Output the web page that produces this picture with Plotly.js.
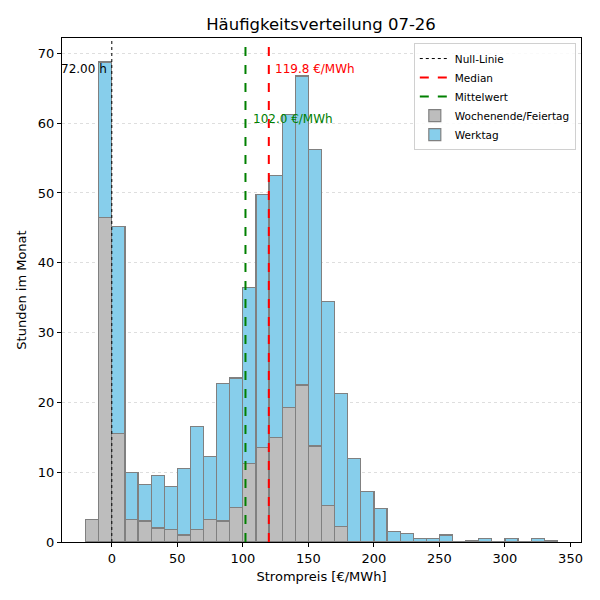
<!DOCTYPE html>
<html>
<head>
<meta charset="utf-8">
<script src="https://cdn.plot.ly/plotly-3.0.1.min.js"></script>
<style>body{margin:0;padding:0;background:#fff}#chart{width:600px;height:600px}</style>
</head>
<body>
<div id="chart"></div>
<script>
// Bin left edges (€/MWh), bin width 10
const binStarts = [-20,-10,0,10,20,30,40,50,60,70,80,90,100,110,120,130,140,150,160,170,180,190,200,210,220,230,240,250,260,270,280,290,300,310,320,330];
const binWidth = 10;
// Hours per bin – weekend/holiday (bottom) and working day (stacked on top)
const wochenende = [3.25,46.5,15.5,3.25,3.0,2.0,1.75,1.0,1.75,3.25,3.0,5.0,11.25,13.5,15.0,19.25,22.5,13.75,5.25,2.25,0,0,0,0,0,0,0,0,0,0,0,0,0,0,0,0];
const werktag    = [0,22.25,29.75,6.75,5.25,7.5,6.25,9.5,14.75,9.0,19.75,18.5,25.25,36.25,37.5,42.0,44.25,42.5,29.25,19.0,12.0,7.25,4.75,1.5,1.25,0.5,0.5,1.0,0,0.25,0.5,0,0.5,0,0.5,0.25];
const median = 119.8;
const mittelwert = 102.0;
const stundenNull = 72.0;
const yTop = 72.2;

const centers = binStarts.map(b => b + binWidth/2);
const font = "DejaVu Sans, sans-serif";

const traces = [
  {type:'scatter', mode:'lines', name:'Null-Linie', x:[0,0], y:[0,yTop],
   line:{color:'black', width:1, dash:'dot'}},
  {type:'scatter', mode:'lines', name:'Median', x:[median,median], y:[0,yTop],
   line:{color:'red', width:2, dash:'dash'}},
  {type:'scatter', mode:'lines', name:'Mittelwert', x:[mittelwert,mittelwert], y:[0,yTop],
   line:{color:'green', width:2, dash:'dash'}},
  {type:'bar', name:'Wochenende/Feiertag', x:centers, y:wochenende, width:binWidth,
   marker:{color:'#bdbdbd', line:{color:'#808080', width:1.2}}},
  {type:'bar', name:'Werktag', x:centers, y:werktag, width:binWidth,
   marker:{color:'#87ceeb', line:{color:'#808080', width:1.2}}}
];
const layout = {
  width:600, height:600,
  margin:{l:62, r:19, t:38, b:58},
  paper_bgcolor:'white', plot_bgcolor:'white',
  barmode:'stack', bargap:0,
  font:{family:font, size:13, color:'black'},
  title:{text:'Häufigkeitsverteilung 07-26', font:{family:font, size:16.5, color:'black'}, x:0.535, xanchor:'center', y:0.96, yanchor:'middle'},
  xaxis:{range:[-38,358], tickvals:[0,50,100,150,200,250,300,350], showgrid:false, zeroline:false,
    showline:true, linecolor:'black', linewidth:1, mirror:true, ticks:'outside', ticklen:4, tickcolor:'black',
    title:{text:'Strompreis [€/MWh]', font:{size:13}, standoff:7}},
  yaxis:{range:[0,yTop], tickvals:[0,10,20,30,40,50,60,70], showgrid:true, gridcolor:'#dedede', griddash:'dot', gridwidth:1,
    zeroline:false, showline:true, linecolor:'black', linewidth:1, mirror:true, ticks:'outside', ticklen:4, tickcolor:'black',
    title:{text:'Stunden im Monat', font:{size:13}, standoff:8}},
  legend:{x:0.99, y:0.99, xanchor:'right', yanchor:'top', bgcolor:'rgba(255,255,255,0.85)', bordercolor:'#d0d0d0', borderwidth:1,
    font:{size:10.5}, traceorder:'normal', itemwidth:30},
  annotations:[
    {x:-2, y:67.8, xref:'x', yref:'y', text:stundenNull.toFixed(2)+' h', showarrow:false, xanchor:'right', yanchor:'middle', font:{size:12, color:'black'}},
    {x:median+3.5, y:67.8, xref:'x', yref:'y', text:median.toFixed(1)+' €/MWh', showarrow:false, xanchor:'left', yanchor:'middle', font:{size:12, color:'red'}},
    {x:mittelwert+4, y:60.6, xref:'x', yref:'y', text:mittelwert.toFixed(1)+' €/MWh', showarrow:false, xanchor:'left', yanchor:'middle', font:{size:12, color:'green'}}
  ]
};
Plotly.newPlot('chart', traces, layout, {displayModeBar:false, staticPlot:true});
</script>
</body>
</html>
